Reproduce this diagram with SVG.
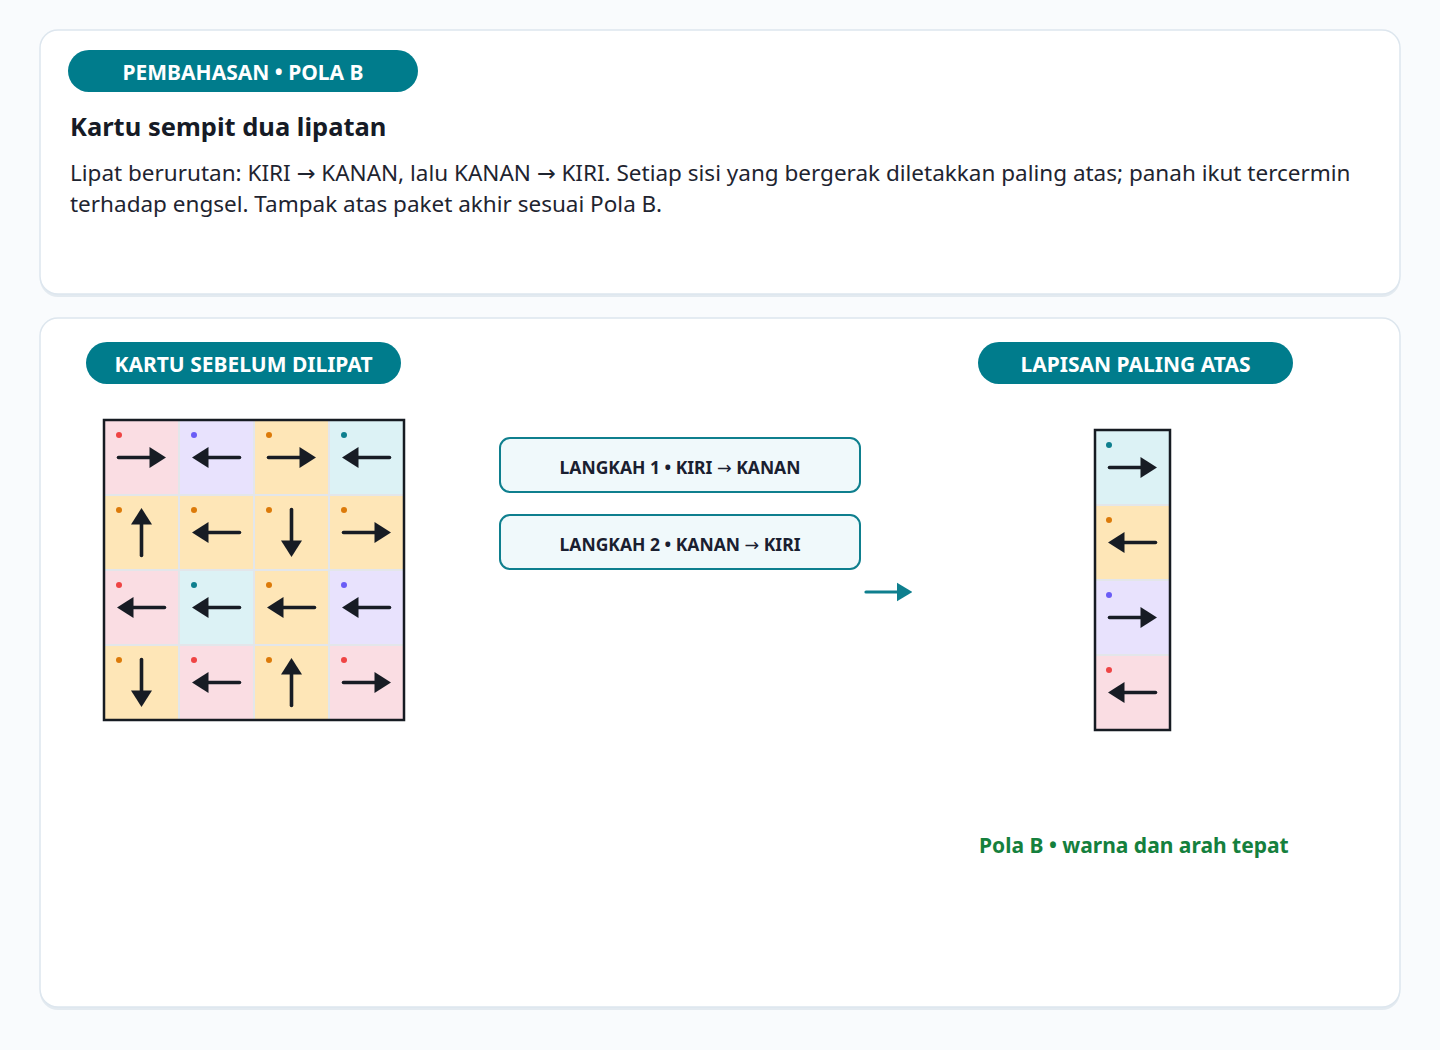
<svg xmlns="http://www.w3.org/2000/svg" xmlns:xlink="http://www.w3.org/1999/xlink" width="1440" height="1050" viewBox="0 0 1440 1050">
<style>
text{font-family:"Noto Sans","Open Sans","Liberation Sans",sans-serif}
.ar{font-family:"DejaVu Sans","Noto Sans",sans-serif}
.card{fill:#ffffff;stroke:#dde6ee;stroke-width:1.5}
.shadow{fill:#e3eaf0}
.pill{fill:#007c8c}
.pilltxt{fill:#ffffff;font-weight:700;font-size:21px;text-anchor:middle}
.title{fill:#161b26;font-weight:700;font-size:25.5px}
.body{fill:#1e2430;font-size:22.5px}
.step{fill:#f0f9fb;stroke:#0e7f8e;stroke-width:2}
.steptxt{fill:#1a2030;font-weight:700;font-size:17.5px;text-anchor:middle}
.pink{fill:#fadde3}.lav{fill:#e8e2fd}.amb{fill:#fee6b7}.cyan{fill:#dcf2f5}
.cell{stroke:#e3e6ea;stroke-width:2}
.frame{fill:none;stroke:#161b22;stroke-width:2.5}
.dr{fill:#ef4444}.dp{fill:#6a5cf6}.do{fill:#dc7a09}.dt{fill:#0e7f8e}
.ok{fill:#15803d;font-weight:700;font-size:21px}
</style>
<defs>
<g id="arr">
<line x1="-23" y1="0" x2="10" y2="0" stroke="#171c24" stroke-width="3.6" stroke-linecap="round"/>
<polygon points="8,-10.5 24.5,0 8,10.5" fill="#171c24"/>
</g>
<marker id="tealhead" viewBox="0 0 10 12" refX="0" refY="6" markerWidth="4.8" markerHeight="6.2" orient="auto" markerUnits="strokeWidth">
<path d="M0,0 L10,6 L0,12 Z" fill="#0e7f8e"/>
</marker>
</defs>
<rect width="1440" height="1050" fill="#f9fbfd"/>

<g id="header-card">
<rect class="shadow" x="40" y="32" width="1360" height="265" rx="18"/>
<rect class="card" x="40" y="30" width="1360" height="264" rx="18"/>
<rect class="pill" x="68" y="50" width="350" height="42" rx="21"/>
<text class="pilltxt" x="243" y="80">PEMBAHASAN • POLA B</text>
<text class="title" x="70" y="136">Kartu sempit dua lipatan</text>
<text class="body" x="70" y="181">Lipat berurutan: KIRI <tspan class="ar">→</tspan> KANAN, lalu KANAN <tspan class="ar">→</tspan> KIRI. Setiap sisi yang bergerak diletakkan paling atas; panah ikut tercermin</text>
<text class="body" x="70" y="212">terhadap engsel. Tampak atas paket akhir sesuai Pola B.</text>
</g>

<g id="main-card">
<rect class="shadow" x="40" y="320" width="1360" height="690" rx="18"/>
<rect class="card" x="40" y="318" width="1360" height="689" rx="18"/>
</g>

<g id="label-before">
<rect class="pill" x="86" y="342" width="315" height="42" rx="21"/>
<text class="pilltxt" x="243.5" y="372">KARTU SEBELUM DILIPAT</text>
</g>

<g id="label-top">
<rect class="pill" x="978" y="342" width="315" height="42" rx="21"/>
<text class="pilltxt" x="1135.5" y="372">LAPISAN PALING ATAS</text>
</g>

<g id="card-grid">
<rect class="cell pink" x="104" y="420" width="75" height="75"/>
<rect class="cell lav" x="179" y="420" width="75" height="75"/>
<rect class="cell amb" x="254" y="420" width="75" height="75"/>
<rect class="cell cyan" x="329" y="420" width="75" height="75"/>
<rect class="cell amb" x="104" y="495" width="75" height="75"/>
<rect class="cell amb" x="179" y="495" width="75" height="75"/>
<rect class="cell amb" x="254" y="495" width="75" height="75"/>
<rect class="cell amb" x="329" y="495" width="75" height="75"/>
<rect class="cell pink" x="104" y="570" width="75" height="75"/>
<rect class="cell cyan" x="179" y="570" width="75" height="75"/>
<rect class="cell amb" x="254" y="570" width="75" height="75"/>
<rect class="cell lav" x="329" y="570" width="75" height="75"/>
<rect class="cell amb" x="104" y="645" width="75" height="75"/>
<rect class="cell pink" x="179" y="645" width="75" height="75"/>
<rect class="cell amb" x="254" y="645" width="75" height="75"/>
<rect class="cell pink" x="329" y="645" width="75" height="75"/>
<rect class="frame" x="104" y="420" width="300" height="300"/>

<circle class="dr" cx="119" cy="435" r="3"/>
<circle class="dp" cx="194" cy="435" r="3"/>
<circle class="do" cx="269" cy="435" r="3"/>
<circle class="dt" cx="344" cy="435" r="3"/>
<circle class="do" cx="119" cy="510" r="3"/>
<circle class="do" cx="194" cy="510" r="3"/>
<circle class="do" cx="269" cy="510" r="3"/>
<circle class="do" cx="344" cy="510" r="3"/>
<circle class="dr" cx="119" cy="585" r="3"/>
<circle class="dt" cx="194" cy="585" r="3"/>
<circle class="do" cx="269" cy="585" r="3"/>
<circle class="dp" cx="344" cy="585" r="3"/>
<circle class="do" cx="119" cy="660" r="3"/>
<circle class="dr" cx="194" cy="660" r="3"/>
<circle class="do" cx="269" cy="660" r="3"/>
<circle class="dr" cx="344" cy="660" r="3"/>

<use xlink:href="#arr" href="#arr" transform="translate(141.5,457.5)"/>
<use xlink:href="#arr" href="#arr" transform="translate(216.5,457.5) rotate(180)"/>
<use xlink:href="#arr" href="#arr" transform="translate(291.5,457.5)"/>
<use xlink:href="#arr" href="#arr" transform="translate(366.5,457.5) rotate(180)"/>
<use xlink:href="#arr" href="#arr" transform="translate(141.5,532.5) rotate(-90)"/>
<use xlink:href="#arr" href="#arr" transform="translate(216.5,532.5) rotate(180)"/>
<use xlink:href="#arr" href="#arr" transform="translate(291.5,532.5) rotate(90)"/>
<use xlink:href="#arr" href="#arr" transform="translate(366.5,532.5)"/>
<use xlink:href="#arr" href="#arr" transform="translate(141.5,607.5) rotate(180)"/>
<use xlink:href="#arr" href="#arr" transform="translate(216.5,607.5) rotate(180)"/>
<use xlink:href="#arr" href="#arr" transform="translate(291.5,607.5) rotate(180)"/>
<use xlink:href="#arr" href="#arr" transform="translate(366.5,607.5) rotate(180)"/>
<use xlink:href="#arr" href="#arr" transform="translate(141.5,682.5) rotate(90)"/>
<use xlink:href="#arr" href="#arr" transform="translate(216.5,682.5) rotate(180)"/>
<use xlink:href="#arr" href="#arr" transform="translate(291.5,682.5) rotate(-90)"/>
<use xlink:href="#arr" href="#arr" transform="translate(366.5,682.5)"/>
</g>

<g id="step-1">
<rect class="step" x="500" y="438" width="360" height="54" rx="10"/>
<text class="steptxt" x="680" y="474">LANGKAH 1 • KIRI <tspan class="ar" font-weight="400">→</tspan> KANAN</text>
</g>

<g id="step-2">
<rect class="step" x="500" y="515" width="360" height="54" rx="10"/>
<text class="steptxt" x="680" y="551">LANGKAH 2 • KANAN <tspan class="ar" font-weight="400">→</tspan> KIRI</text>
</g>

<g id="connectors">
<line x1="866" y1="592" x2="897" y2="592" stroke="#0e7f8e" stroke-width="3.2" stroke-linecap="round" marker-end="url(#tealhead)"/>
</g>

<g id="top-layer">
<rect class="cell cyan" x="1095" y="430" width="75" height="75"/>
<rect class="cell amb" x="1095" y="505" width="75" height="75"/>
<rect class="cell lav" x="1095" y="580" width="75" height="75"/>
<rect class="cell pink" x="1095" y="655" width="75" height="75"/>
<rect class="frame" x="1095" y="430" width="75" height="300"/>
<circle class="dt" cx="1109" cy="445" r="3"/>
<circle class="do" cx="1109" cy="520" r="3"/>
<circle class="dp" cx="1109" cy="595" r="3"/>
<circle class="dr" cx="1109" cy="670" r="3"/>
<use xlink:href="#arr" href="#arr" transform="translate(1132.5,467.5)"/>
<use xlink:href="#arr" href="#arr" transform="translate(1132.5,542.5) rotate(180)"/>
<use xlink:href="#arr" href="#arr" transform="translate(1132.5,617.5)"/>
<use xlink:href="#arr" href="#arr" transform="translate(1132.5,692.5) rotate(180)"/>
</g>

<g id="result-note">
<text class="ok" x="979" y="853">Pola B • warna dan arah tepat</text>
</g>
</svg>
